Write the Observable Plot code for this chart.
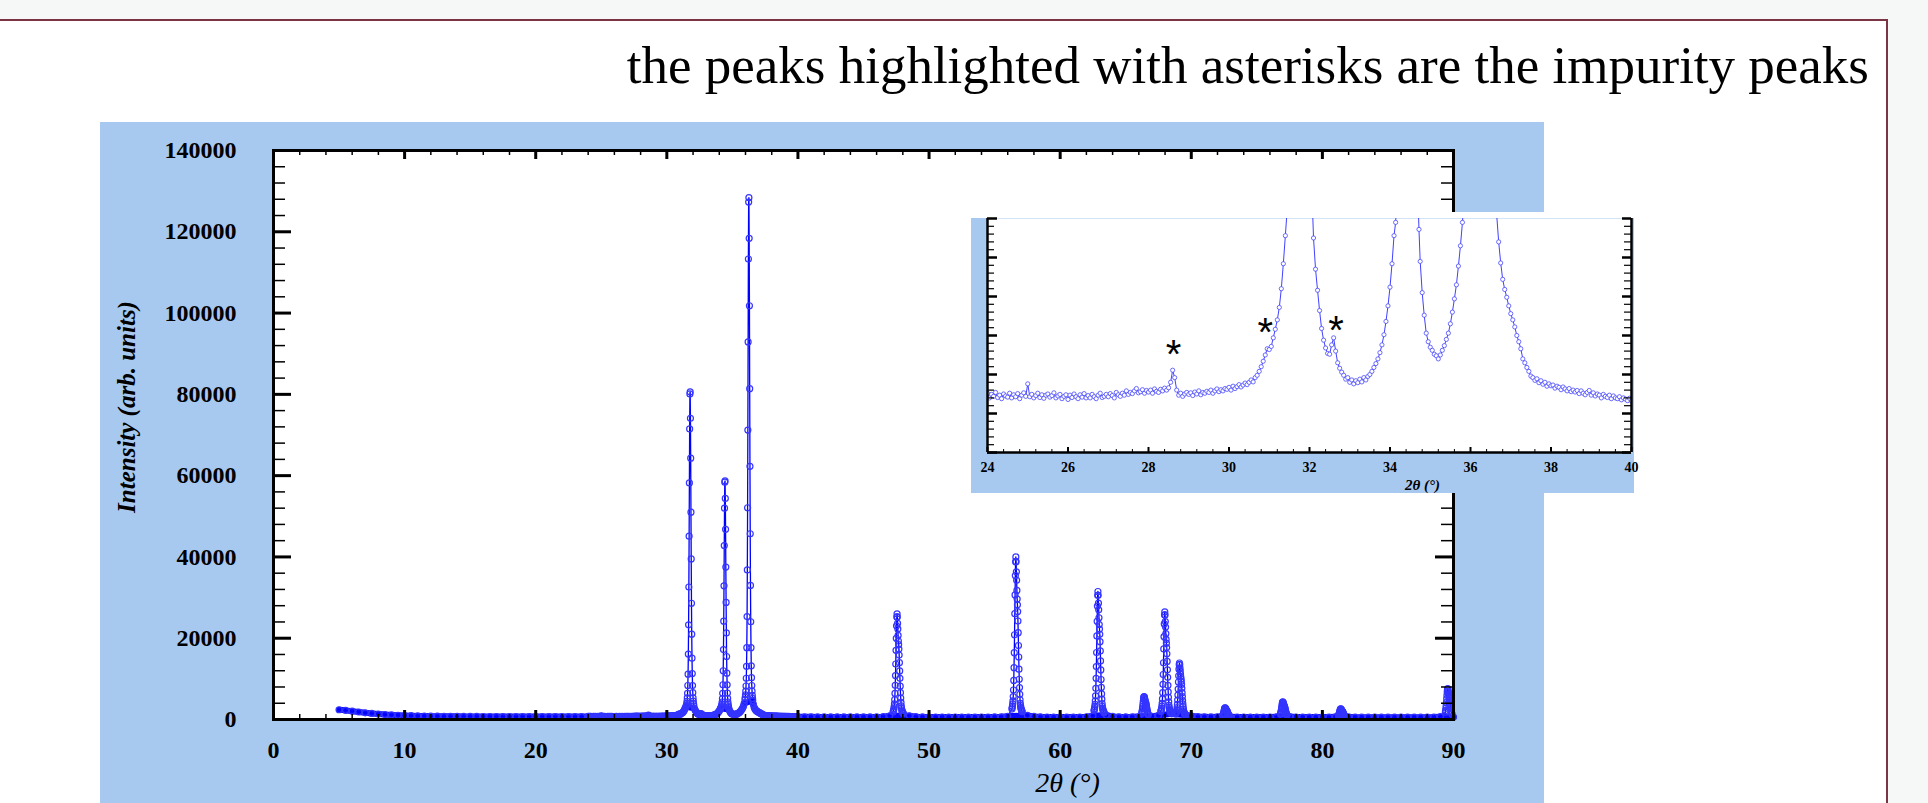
<!DOCTYPE html>
<html><head><meta charset="utf-8">
<script src="https://cdn.jsdelivr.net/npm/d3@7"></script>
<script src="https://cdn.jsdelivr.net/npm/@observablehq/plot@0.6"></script>
<style>
html,body{margin:0;padding:0;width:1928px;height:803px;overflow:hidden;background:#f6f8f7;}
#box{position:absolute;left:-10px;top:19px;width:1894px;height:900px;border:2px solid #7b3444;background:#fff;}
#title{position:absolute;right:59px;top:39px;font:53px/53px "Liberation Serif","Times New Roman",serif;color:#000;white-space:nowrap;}
#mainPanel{position:absolute;left:100px;top:122px;width:1444px;height:681px;background:#a8c9ef;}
#insetWrap{position:absolute;left:971px;top:212px;width:663px;height:281px;background:#fff;}
#insetPanel{position:absolute;left:0;top:6px;width:663px;height:275px;background:#a8c9ef;}
svg{display:block;}
</style></head><body>
<div id="box"></div>
<div id="title">the peaks highlighted with asterisks are the impurity peaks</div>
<div id="mainPanel"></div>
<div id="insetWrap"><div id="insetPanel"></div></div>
<script>
// ---------- labels & ticks ----------
const titleText = "the peaks highlighted with asterisks are the impurity peaks";
const xLabel = "2θ (°)";
const yLabel = "Intensity (arb. units)";
const xTicksMain = [0, 10, 20, 30, 40, 50, 60, 70, 80, 90];
const yTicksMain = [0, 20000, 40000, 60000, 80000, 100000, 120000, 140000];
const xTicksInset = [24, 26, 28, 30, 32, 34, 36, 38, 40];

// ---------- background scan (coarse, 0.5° step) ----------
const bgStep = 0.5;
const bgLeftStart = 5.0;
const bgLeftCounts = [2400, 2250, 2050, 1850, 1650, 1500, 1350, 1230, 1130, 1050,
  980, 930, 890, 860, 830, 810, 790, 780, 770, 760,
  750, 745, 740, 740, 735, 730, 730, 725, 725, 720,
  720, 720, 720, 720, 725, 725, 730, 730];
const bgRightStart = 40.5;
const bgRightCounts = [660, 650, 645, 640, 640, 635, 630, 630, 625, 625,
  630, 640, 700, 900, 1500, 1500, 900, 700, 640, 620,
  610, 610, 600, 600, 600, 600, 600, 605, 610, 630,
  670, 800, 1500, 1500, 1000, 750, 650, 620, 600, 600,
  600, 600, 610, 680, 900, 1500, 1100, 750, 650, 640,
  650, 720, 1000, 800, 1000, 1500, 1400, 1500, 1200, 900,
  700, 650, 630, 650, 800, 680, 620, 610, 600, 600,
  600, 610, 650, 900, 720, 620, 600, 590, 590, 590,
  600, 650, 800, 640, 590, 580, 580, 580, 570, 570,
  570, 570, 570, 570, 570, 580, 590, 700, 1000, 600];

// ---------- fine scan 24–40° (0.05° step) between the strong peaks ----------
const scanStep = 0.05;
const segAStart = 24.00;
const segA = [760, 700, 745, 720, 770, 705, 735, 690, 750, 725,
  710, 760, 700, 740, 715, 755, 690, 735, 765, 720,
  880, 715, 745, 700, 730, 760, 705, 740, 695, 735,
  750, 710, 730, 765, 700, 725, 745, 690, 720, 740,
  680, 735, 705, 750, 715, 690, 740, 710, 755, 700,
  730, 700, 745, 715, 690, 735, 760, 705, 720, 745,
  715, 755, 730, 700, 770, 740, 720, 760, 735, 790,
  745, 770, 755, 790, 820, 765, 780, 805, 760, 795,
  775, 800, 760, 815, 785, 770, 810, 790, 825, 800,
  830, 900, 1055, 960, 800, 735, 760, 720, 750, 770,
  745, 765, 730, 775, 750, 790, 740, 770, 760, 785,
  770, 800, 760, 790, 815, 780, 805, 790, 820, 810,
  835, 800, 850, 820, 845, 870, 840, 865, 890, 870,
  900, 930, 905, 960, 990, 1040, 1100, 1170, 1250, 1330,
  1320, 1360, 1470, 1580, 1700, 1860, 2100, 2420, 2780, 3150];
const segBStart = 32.10;
const segB = [2750, 2350, 2080, 1820, 1590, 1440, 1340, 1270, 1260, 1380,
  1470, 1300, 1150, 1080, 1030, 990, 940, 960, 900, 930,
  880, 920, 895, 940, 905, 960, 930, 975, 1000, 1040,
  1090, 1140, 1200, 1280, 1380, 1510, 1680, 1880, 2120, 2420, 2780];
const segCStart = 34.75;
const segC = [2450, 2050, 1760, 1530, 1420, 1350, 1310, 1260, 1240, 1200,
  1250, 1310, 1370, 1450, 1530, 1650, 1800, 1970, 2150, 2390,
  2650, 2950, 3350, 3950];
const segDStart = 36.55;
const segD = [4700, 3750, 3050, 2700, 2430, 2220, 2090, 1990, 1880, 1780,
  1700, 1610, 1500, 1420, 1330, 1200, 1150, 1090, 1040, 980,
  960, 925, 945, 895, 920, 875, 900, 850, 880, 855,
  865, 825, 850, 835, 805, 840, 815, 790, 820, 780,
  800, 775, 795, 755, 790, 760, 740, 770, 795, 735,
  765, 725, 750, 735, 700, 745, 720, 705, 735, 690,
  725, 700, 690, 715, 675, 700, 685, 665, 695, 660];

// ---------- diffraction peaks (0.02° step) ----------
const peakStep = 0.02;
const peakStarts = [31.48, 34.14, 35.96, 47.26, 56.32, 62.58, 66.22, 67.68, 68.80, 72.40, 76.80, 81.22, 89.38];
const peak1 = [3210, 3540, 3890, 4470, 5310, 6450, 8360, 11150, 16100, 23300, 32600, 45100, 58200, 71500, 80100,
  80600, 74100, 64300, 51000, 39500, 28600, 21000, 15100, 11300, 8350, 6600, 5300, 4500, 3820, 3350];
const peak2 = [2950, 3150, 3400, 3750, 4300, 5150, 6450, 8550, 12000, 17200, 24200, 32900, 42800, 52000, 58400,
  58700, 54400, 46800, 37500, 28800, 21300, 15500, 11400, 8540, 6510, 5180, 4310, 3670, 3200, 2860];
const peak3 = [4930, 5440, 6070, 6970, 8240, 10150, 13090, 17680, 25330, 36800, 52100, 71200, 92900, 113300, 127300,
  128400, 118400, 101800, 81400, 62300, 45700, 33000, 24050, 17680, 13210, 10280, 8370, 6970, 5950, 5180];
const peak4 = [1870, 2070, 2330, 2680, 3170, 3850, 4890, 6420, 8420, 10810, 13660, 17010, 19980, 23050, 25240,
  26000, 25240, 23640, 22290, 20690, 19320, 18410, 17340, 15840, 13990, 11950, 10130, 8190, 6590, 5270,
  4210, 3340, 2780, 2400, 2120, 1920, 1770, 1620, 1540, 1460];
const peak5 = [2570, 2890, 3280, 3830, 4580, 5640, 7260, 9620, 12740, 16440, 20850, 26050, 30660, 35430, 38820,
  40000, 38820, 36340, 34250, 31770, 29640, 28220, 26560, 24240, 21360, 18210, 15380, 12380, 9900, 7850,
  6190, 4860, 3990, 3400, 2960, 2650, 2410, 2180, 2060, 1940];
const peak6 = [2150, 2390, 2700, 3130, 3720, 4560, 5820, 7680, 10120, 13020, 16480, 20560, 24180, 27920, 30570,
  31500, 30570, 28630, 26990, 25040, 23370, 22260, 20960, 19140, 16880, 14410, 12190, 9840, 7890, 6290,
  4990, 3940, 3260, 2790, 2450, 2210, 2020, 1840, 1740, 1650];
const peak7 = [1500, 1800, 2190, 2660, 3220, 3880, 4470, 5070, 5500, 5650, 5500, 5190, 4920, 4610, 4340,
  4160, 3950, 3650, 3290, 2890, 2530, 2150, 1830, 1570, 1360, 1190];
const peak8 = [1990, 2200, 2450, 2820, 3310, 4000, 5060, 6610, 8650, 11070, 13960, 17370, 20390, 23510, 25730,
  26500, 25730, 24100, 22730, 21110, 19710, 18790, 17700, 16180, 14300, 12230, 10380, 8410, 6790, 5450,
  4360, 3490, 2920, 2530, 2250, 2040, 1890, 1730, 1650, 1580];
const peak9 = [1360, 1470, 1600, 1780, 2030, 2390, 2930, 3720, 4770, 6010, 7480, 9230, 10770, 12370, 13500,
  13900, 13500, 12670, 11970, 11140, 10430, 9950, 9400, 8620, 7660, 6600, 5650, 4650, 3820, 3130,
  2570, 2130, 1840, 1640, 1490, 1390, 1310, 1230, 1190, 1150];
const peak10 = [1020, 1150, 1330, 1530, 1780, 2070, 2330, 2600, 2780, 2850, 2780, 2650, 2530, 2390, 2270,
  2190, 2100, 1970, 1810, 1630, 1480, 1310, 1170, 1050, 960, 890];
const peak11 = [1280, 1500, 1790, 2140, 2550, 3040, 3470, 3920, 4240, 4350, 4240, 4010, 3810, 3580, 3380,
  3240, 3090, 2870, 2600, 2300, 2040, 1760, 1520, 1330, 1180, 1050];
const peak12 = [940, 1060, 1220, 1400, 1630, 1890, 2130, 2370, 2540, 2600, 2540, 2410, 2310, 2180, 2070,
  2000, 1920, 1800, 1650, 1490, 1350, 1200, 1070, 970, 880, 820];
const peak13 = [1780, 2200, 2760, 3410, 4200, 5120, 5940, 6790, 7390, 7600, 7390, 6950, 6580, 6140, 5760,
  5510, 5210, 4800, 4290, 3730, 3230, 2690, 2250, 1890, 1590, 1360];

// ---------- impurity markers (inset) ----------
const starX = [28.62, 30.90, 32.66];
const starY = [1310, 1590, 1615];

// ---------- assemble ----------
const seq = (start, step, counts) => counts.map((y, i) => ({x: +(start + i * step).toFixed(2), y}));
const peakCounts = [peak1, peak2, peak3, peak4, peak5, peak6, peak7, peak8, peak9, peak10, peak11, peak12, peak13];
const peakPts = peakCounts.flatMap((c, k) => seq(peakStarts[k], peakStep, c));
const windows = peakCounts.map((c, k) => [peakStarts[k] - 0.001, peakStarts[k] + (c.length - 1) * peakStep + 0.001]);
const outside = p => !windows.some(([a, b]) => p.x >= a && p.x <= b);

const scanPts = [
  ...seq(segAStart, scanStep, segA), ...seq(segBStart, scanStep, segB),
  ...seq(segCStart, scanStep, segC), ...seq(segDStart, scanStep, segD)
];
const bandPts = [
  ...seq(bgLeftStart, bgStep, bgLeftCounts),
  ...scanPts,
  ...seq(bgRightStart, bgStep, bgRightCounts).filter(outside)
].sort((a, b) => a.x - b.x);
const allPts = [...bandPts, ...peakPts].sort((a, b) => a.x - b.x);
const insetPts = [...scanPts, ...peakPts.filter(p => p.x >= 24 && p.x <= 40)].sort((a, b) => a.x - b.x);
const stars = starX.map((x, i) => ({x, y: starY[i]}));

const serif = '"Liberation Serif", "Times New Roman", serif';

// ---------- main chart ----------
const W = 1444, H = 681, mL = 173, mR = 91, mT = 28, mB = 84;
const iW = W - mL - mR, iH = H - mT - mB;
const xMinor = d3.range(0, 91, 2).filter(v => v % 10 !== 0);
const yMinor = d3.range(0, 140001, 4000).filter(v => v % 20000 !== 0);

const main = Plot.plot({
  width: W, height: H, marginLeft: mL, marginRight: mR, marginTop: mT, marginBottom: mB,
  x: {domain: [0, 90]},
  y: {domain: [0, 140000]},
  style: {background: "transparent", fontFamily: serif, overflow: "visible", color: "black"},
  marks: [
    Plot.frame({fill: "white", stroke: null}),
    Plot.line(bandPts, {x: "x", y: "y", stroke: "#0a0aff", strokeWidth: 6, strokeLinejoin: "round"}),
    Plot.line(allPts, {x: "x", y: "y", stroke: "#0000ff", strokeWidth: 1.3}),
    Plot.dot(allPts, {x: "x", y: "y", r: 3, stroke: "#3535ff", strokeWidth: 1.2, fill: "none"}),
    // inward ticks: bottom / top
    Plot.tickX(xTicksMain, {x: d => d, insetTop: iH - 9, stroke: "black", strokeWidth: 3}),
    Plot.tickX(xMinor, {x: d => d, insetTop: iH - 5, stroke: "black", strokeWidth: 1.5}),
    Plot.tickX(xTicksMain, {x: d => d, insetBottom: iH - 9, stroke: "black", strokeWidth: 3}),
    Plot.tickX(xMinor, {x: d => d, insetBottom: iH - 5, stroke: "black", strokeWidth: 1.5}),
    // inward ticks: left / right
    Plot.tickY(yTicksMain, {y: d => d, insetRight: iW - 18, stroke: "black", strokeWidth: 3}),
    Plot.tickY(yMinor, {y: d => d, insetRight: iW - 12, stroke: "black", strokeWidth: 1.5}),
    Plot.tickY(yTicksMain, {y: d => d, insetLeft: iW - 18, stroke: "black", strokeWidth: 3}),
    Plot.tickY(yMinor, {y: d => d, insetLeft: iW - 12, stroke: "black", strokeWidth: 1.5}),
    Plot.frame({stroke: "black", strokeWidth: 3}),
    Plot.axisX(xTicksMain, {tickSize: 0, tickPadding: 21, fontSize: 24, fontWeight: "bold", label: null, tickFormat: d => String(d), fill: "black"}),
    Plot.axisY(yTicksMain, {tickSize: 0, tickPadding: 37, fontSize: 24, fontWeight: "bold", label: null, tickFormat: d => String(d), fill: "black"}),
    Plot.text([xLabel], {frameAnchor: "bottom", text: d => d, textAnchor: "middle", lineAnchor: "middle", dx: 204, dy: 64, fontSize: 28, fontStyle: "italic", fill: "black"}),
    Plot.text([yLabel], {frameAnchor: "left", text: d => d, textAnchor: "middle", lineAnchor: "middle", rotate: -90, dx: -147, dy: -28, fontSize: 25, fontStyle: "italic", fontWeight: "bold", fill: "black"})
  ]
});
document.getElementById("mainPanel").appendChild(main);

// ---------- inset ----------
const IW = 663, IH = 275, imL = 16, imR = 3, imT = 0, imB = 41;
const iiW = IW - imL - imR, iiH = IH - imT - imB;
const insetYMajor = d3.range(0, 3001, 500);
const insetYMinor = d3.range(0, 3001, 100).filter(v => v % 500 !== 0);
const insetXMinor = d3.range(0, 41).filter(i => i % 5 !== 0).map(i => 24 + i * 0.4);

const inset = Plot.plot({
  width: IW, height: IH, marginLeft: imL, marginRight: imR, marginTop: imT, marginBottom: imB,
  x: {domain: [24, 40]},
  y: {domain: [0, 3000], axis: null},
  style: {background: "transparent", fontFamily: serif, overflow: "visible", color: "black"},
  marks: [
    Plot.frame({fill: "white", stroke: null}),
    Plot.line(insetPts, {x: "x", y: "y", stroke: "#2b2bff", strokeWidth: 0.9, clip: true}),
    Plot.dot(insetPts, {x: "x", y: "y", r: 2.1, fill: "white", stroke: "#4848ff", strokeWidth: 0.8, clip: true}),
    Plot.tickY(insetYMajor, {y: d => d, insetRight: iiW - 10, stroke: "black", strokeWidth: 2.5}),
    Plot.tickY(insetYMinor, {y: d => d, insetRight: iiW - 7, stroke: "black", strokeWidth: 1.2}),
    Plot.tickY(insetYMajor, {y: d => d, insetLeft: iiW - 9, stroke: "black", strokeWidth: 2.5}),
    Plot.tickY(insetYMinor, {y: d => d, insetLeft: iiW - 7, stroke: "black", strokeWidth: 1.2}),
    Plot.tickX(xTicksInset, {x: d => d, insetTop: iiH - 5, stroke: "black", strokeWidth: 2}),
    Plot.tickX(insetXMinor, {x: d => d, insetTop: iiH - 3, stroke: "black", strokeWidth: 1}),
    Plot.ruleX([24, 40], {stroke: "black", strokeWidth: 2.5}),
    Plot.ruleY([0], {stroke: "black", strokeWidth: 2.5}),
    Plot.text(stars, {x: "x", y: "y", text: d => "*", fontSize: 40, fontFamily: '"Liberation Sans", Arial, sans-serif', dy: 5, fill: "black"}),
    Plot.axisX(xTicksInset, {tickSize: 0, tickPadding: 10, fontSize: 14, fontWeight: "bold", label: null, tickFormat: d => String(d), fill: "black"}),
    Plot.text([xLabel], {frameAnchor: "bottom", text: d => d, textAnchor: "middle", lineAnchor: "middle", dx: 113, dy: 33, fontSize: 15, fontStyle: "italic", fontWeight: "bold", fill: "black"})
  ]
});
document.getElementById("insetPanel").appendChild(inset);
</script>
</body></html>
